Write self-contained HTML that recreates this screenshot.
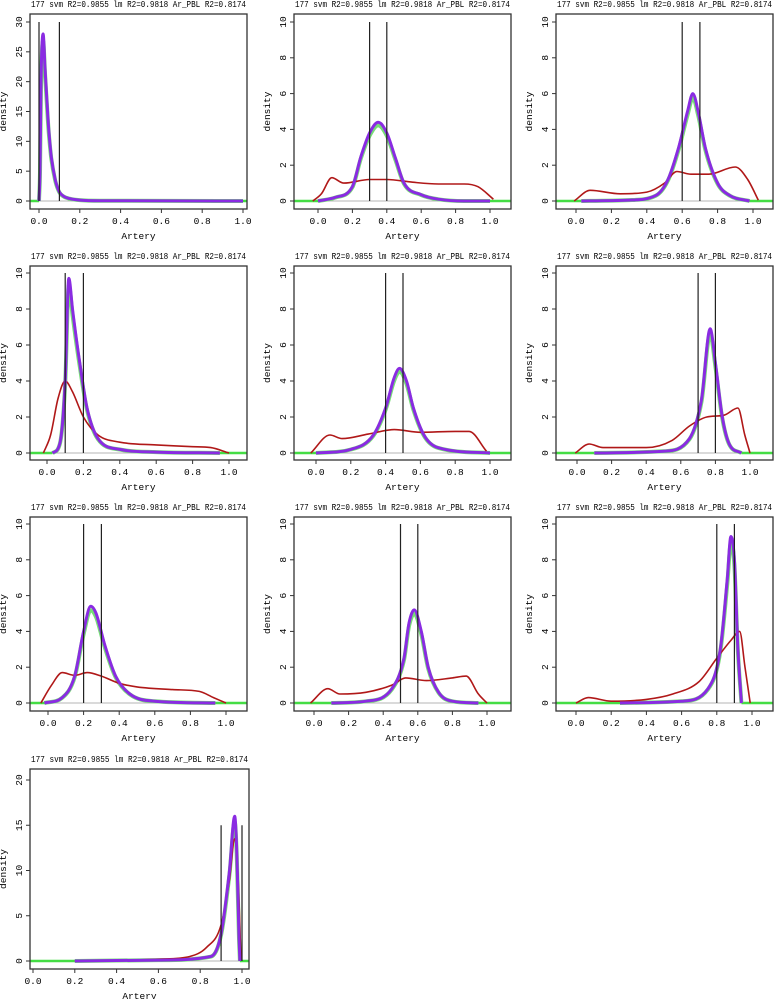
<!DOCTYPE html>
<html><head><meta charset="utf-8">
<style>
html,body{margin:0;padding:0;background:#fff;}
svg{display:block;}
text{font-family:"Liberation Mono","DejaVu Sans Mono",monospace;fill:#000;}
</style></head>
<body>
<svg id="chart" width="784" height="999" xmlns="http://www.w3.org/2000/svg"></svg>
<script>
const panelTitles = ["177 svm R2=0.9855 lm R2=0.9818 Ar_PBL R2=0.8174"];
const xTickLabels = ["0.0","0.2","0.4","0.6","0.8","1.0"];
const xTickValues = [0,0.2,0.4,0.6,0.8,1.0];
const yMaxValues = [30,10,10,10,10,10,10,10,10,20];
const yStepValues = [5,2,2,2,2,2,2,2,2,5];
const vlineHeights = [30,10,10,10,10,10,10,10,10,15];
const vlineA = [0,0.3,0.6,0.1,0.4,0.7,0.2,0.5,0.8,0.9];
const vlineB = [0.1,0.4,0.7,0.2,0.5,0.8,0.3,0.6,0.9,1.0];

const redX = [
 [0,0.005,0.01,0.02,0.03,0.04,0.05,0.06,0.08,0.1,0.12,0.15,0.2,0.3,1.0],
 [-0.03,0.02,0.08,0.15,0.3,0.4,0.55,0.7,0.85,0.93,1.02],
 [-0.01,0.08,0.25,0.4,0.5,0.57,0.65,0.75,0.9,0.97,1.03],
 [-0.02,0.02,0.06,0.1,0.14,0.2,0.28,0.4,0.6,0.8,0.9,1.0],
 [-0.03,0.08,0.15,0.3,0.45,0.6,0.8,0.88,0.98],
 [-0.01,0.07,0.15,0.4,0.55,0.65,0.75,0.85,0.93,0.97,1.0],
 [-0.04,0.02,0.08,0.15,0.22,0.3,0.4,0.5,0.7,0.85,0.93,1.0],
 [-0.02,0.08,0.15,0.3,0.45,0.53,0.65,0.8,0.88,0.95,1.0],
 [0,0.07,0.2,0.4,0.55,0.7,0.8,0.88,0.93,0.96,0.99],
 [0.2,0.6,0.75,0.83,0.9,0.94,0.965,0.98,0.995]
];
const redY = [
 [0,6,21,27,21,15.5,10.5,7,3.5,1.6,0.9,0.45,0.2,0.05,0],
 [0,0.4,1.3,1.0,1.2,1.2,1.05,0.95,0.95,0.8,0.1],
 [0,0.6,0.4,0.5,1.0,1.65,1.5,1.5,1.9,1.2,0.05],
 [0,1,3,4,3.4,2,1,0.6,0.45,0.35,0.3,0],
 [0,1,0.8,1.05,1.3,1.15,1.2,1.2,0.1],
 [0,0.5,0.3,0.3,0.7,1.5,2,2.1,2.5,1,0],
 [0,1,1.7,1.55,1.7,1.5,1.1,0.9,0.75,0.65,0.3,0],
 [0,0.8,0.5,0.6,1.0,1.4,1.25,1.4,1.5,0.5,0],
 [0,0.3,0.1,0.2,0.5,1.2,2.5,3.5,4,2,0],
 [0,0.2,0.5,1.5,4,9,13.5,10,0]
];
const purpleX = [
 [0,0.005,0.01,0.02,0.03,0.04,0.05,0.06,0.08,0.1,0.12,0.15,0.2,0.3,1.0],
 [0,0.1,0.2,0.25,0.3,0.35,0.4,0.45,0.5,0.6,0.7,0.85,1.0],
 [0.03,0.3,0.45,0.52,0.58,0.63,0.66,0.69,0.73,0.8,0.87,0.98],
 [0.03,0.07,0.1,0.12,0.14,0.18,0.22,0.28,0.4,0.6,0.95],
 [0,0.2,0.33,0.4,0.45,0.48,0.52,0.56,0.62,0.7,1.0],
 [0.1,0.5,0.65,0.72,0.77,0.8,0.84,0.88,0.95],
 [-0.02,0.08,0.15,0.2,0.24,0.27,0.32,0.38,0.46,0.6,0.94],
 [0.1,0.3,0.45,0.52,0.55,0.58,0.62,0.66,0.72,0.8,0.95],
 [0.25,0.6,0.75,0.82,0.86,0.88,0.9,0.92,0.94],
 [0.2,0.6,0.85,0.9,0.94,0.965,0.975,0.985,0.99]
];
const purpleY = [
 [0,5,20,28,22,16,11,7.5,3.5,1.5,0.8,0.4,0.15,0.05,0],
 [0,0.2,0.8,2.5,3.8,4.4,3.8,2.4,1.0,0.35,0.1,0,0],
 [0,0.05,0.3,1.2,3,5,6,5,3,1.0,0.3,0],
 [0,0.5,4,9.7,8,5,2.5,0.8,0.2,0.05,0],
 [0,0.2,1,2.5,4.2,4.7,4,2.5,1,0.3,0],
 [0,0.1,0.8,3,6.9,5,2,0.5,0],
 [0,0.3,1.5,4,5.4,5,3.2,1.5,0.5,0.1,0],
 [0,0.1,0.8,2.5,4.5,5.2,4,2,0.6,0.1,0],
 [0,0.1,0.8,3,7,9.3,8,3,0],
 [0,0.1,0.5,3,10,16,12,3,0]
];

// layout (not data)
const colLeft = [30,294,556], boxW = 217;
const rowGeom = [ {top:14,bottom:209,y0:201,yt:22}, {top:266,bottom:460,y0:453,yt:273},
                  {top:517,bottom:711,y0:703,yt:524}, {top:769,bottom:969,y0:961,yt:780} ];
const zeroPx = [39,318,576,47,316,577,48,314,576,33];
const onePx = [243,490,753,229,490,750,226,487,752,242];

const svg = document.getElementById('chart');
const NS = 'http://www.w3.org/2000/svg';
function mk(tag, attrs, parent){ const e=document.createElementNS(NS,tag); for(const k in attrs) e.setAttribute(k,attrs[k]); (parent||svg).appendChild(e); return e; }

// monotone cubic path through pixel points
function smoothPath(P){
  const n=P.length; if(n<2) return '';
  const d=[],m=new Array(n);
  for(let i=0;i<n-1;i++) d.push((P[i+1][1]-P[i][1])/(P[i+1][0]-P[i][0]||1e-6));
  m[0]=d[0]; m[n-1]=d[n-2];
  for(let i=1;i<n-1;i++){ m[i]=(d[i-1]*d[i]<=0)?0:(d[i-1]+d[i])/2; }
  for(let i=0;i<n-1;i++){ if(d[i]===0){m[i]=0;m[i+1]=0;continue;} const a=m[i]/d[i],b=m[i+1]/d[i],s=a*a+b*b; if(s>9){const t=3/Math.sqrt(s);m[i]=t*a*d[i];m[i+1]=t*b*d[i];} }
  let s='M'+P[0][0].toFixed(1)+','+P[0][1].toFixed(1);
  for(let i=0;i<n-1;i++){ const h=(P[i+1][0]-P[i][0])/3;
    s+=' C'+(P[i][0]+h).toFixed(1)+','+(P[i][1]+m[i]*h).toFixed(1)+' '+(P[i+1][0]-h).toFixed(1)+','+(P[i+1][1]-m[i+1]*h).toFixed(1)+' '+P[i+1][0].toFixed(1)+','+P[i+1][1].toFixed(1); }
  return s;
}

for (let p=0;p<10;p++){
  const r=Math.floor(p/3), c=p%3;
  const g=rowGeom[r];
  const left=colLeft[c], right=left+boxW + (p===9?2:0);
  const xs=v=>zeroPx[p]+v*(onePx[p]-zeroPx[p]);
  const ys=v=>g.y0-v*(g.y0-g.yt)/yMaxValues[p];
  const grp=mk('g',{});
  
  
  const clipId='clip'+p;
  const cp=mk('clipPath',{id:clipId},grp); mk('rect',{x:left,y:g.top,width:right-left,height:g.bottom-g.top},cp);
  const plot=mk('g',{'clip-path':'url(#'+clipId+')'},grp);
  const zl=mk('line',{x1:left,x2:right,y1:ys(0),y2:ys(0),stroke:'#b5b5b5','stroke-width':1},plot);
  
  
  const px=purpleX[p];
  const gb1=mk('line',{x1:left,x2:xs(px[0]),y1:ys(0),y2:ys(0),stroke:'#44dd44','stroke-width':2.5},plot);
  
  
  const gb2=mk('line',{x1:xs(px[px.length-1]),x2:right,y1:ys(0),y2:ys(0),stroke:'#44dd44','stroke-width':2.5},plot);
  
  
  const pts=(X,Y)=>X.map((x,i)=>[xs(x),ys(Y[i])]);
  const gl=mk('path',{d:smoothPath(pts(purpleX[p],purpleY[p].map(v=>v*0.96))),fill:'none',stroke:'#77dd77','stroke-width':4,'stroke-linejoin':'round'},plot);
  
  
  const rl=mk('path',{d:smoothPath(pts(redX[p],redY[p])),fill:'none',stroke:'#b01818','stroke-width':1.6,'stroke-linejoin':'round'},plot);
  
  
  const pl=mk('path',{d:smoothPath(pts(purpleX[p],purpleY[p])),fill:'none',stroke:'#8a2be2','stroke-width':3,'stroke-linejoin':'round'},plot);
  
  
  [vlineA[p],vlineB[p]].forEach(v=>{
    const l=mk('line',{x1:xs(v),x2:xs(v),y1:ys(0),y2:ys(vlineHeights[p]),stroke:'#222','stroke-width':1.2},plot);
    
    
  });
  const box=mk('rect',{x:left,y:g.top,width:right-left,height:g.bottom-g.top,fill:'none',stroke:'#333','stroke-width':1.3},grp);
  
  
  xTickValues.forEach((v,i)=>{
    mk('line',{x1:xs(v),x2:xs(v),y1:g.bottom,y2:g.bottom+4,stroke:'#333'},grp);
    const t=mk('text',{x:xs(v),y:g.bottom+15,'text-anchor':'middle','font-size':9.5},grp);
    t.textContent=xTickLabels[i];
    
    
  });
  for(let v=0;v<=yMaxValues[p];v+=yStepValues[p]){
    mk('line',{x1:left-4,x2:left,y1:ys(v),y2:ys(v),stroke:'#333'},grp);
    const t=mk('text',{x:0,y:0,'text-anchor':'middle','font-size':9.5,transform:`translate(${left-8},${ys(v)}) rotate(-90)`},grp);
    t.textContent=String(v);
    
    
  }
  const xt=mk('text',{x:(left+right)/2,y:g.bottom+30,'text-anchor':'middle','font-size':9.5},grp);
  xt.textContent='Artery';
  
  
  const yt=mk('text',{x:0,y:0,'text-anchor':'middle','font-size':9.5,transform:`translate(${left-24},${(g.top+g.bottom)/2}) rotate(-90)`},grp);
  yt.textContent='density';
  
  
  const tt=mk('text',{x:left+1,y:g.top-7,'font-size':9,textLength:right-left-2,lengthAdjust:'spacingAndGlyphs'},grp);
  tt.textContent=panelTitles[0];
  
  
}
</script>
</body></html>
